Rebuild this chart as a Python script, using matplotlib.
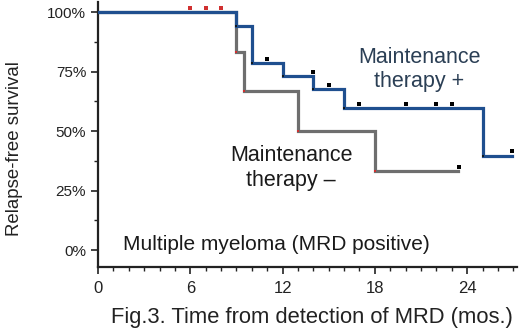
import matplotlib
matplotlib.use("Agg")
import matplotlib.pyplot as plt
from matplotlib.ticker import MultipleLocator, FuncFormatter

plt.rcParams['font.family'] = ['Liberation Sans', 'DejaVu Sans']

# Maintenance therapy + (blue)
pos_times = [0, 9.0, 10.0, 12.0, 14.0, 16.0, 25.0]
pos_surv = [100, 94.4, 78.7, 73.0, 67.5, 59.6, 39.7]
pos_end = 26.9
pos_cens_t = [11.0, 14.0, 15.0, 17.0, 20.0, 22.0, 23.0, 26.9]
pos_cens_s = [78.7, 73.0, 67.5, 59.6, 59.6, 59.6, 59.6, 39.7]

# Maintenance therapy - (gray)
neg_times = [0, 9.0, 9.5, 13.0, 18.0]
neg_surv = [100, 83.3, 66.7, 50.0, 33.3]
neg_end = 23.4
neg_cens_t = [6.0, 7.0, 8.0, 23.5]
neg_cens_s = [100, 100, 100, 33.3]

xticks = [0, 6, 12, 18, 24]
yticks = [0, 25, 50, 75, 100]

blue = '#1f4f8f'
gray = '#6e6e6e'

fig = plt.figure(figsize=(5.2, 3.31), dpi=100)
ax = fig.add_axes([0.1885, 0.1934, 0.806, 0.8])

def steps(t, s, end):
    xs, ys = [], []
    for i in range(len(t)):
        xs.append(t[i]); ys.append(s[i])
        nxt = t[i + 1] if i + 1 < len(t) else end
        xs.append(nxt); ys.append(s[i])
    return xs, ys

gx, gy = steps(neg_times, neg_surv, neg_end)
ax.plot(gx, gy, color=gray, lw=2.3, solid_joinstyle='miter', zorder=2)
bx, by = steps(pos_times, pos_surv, pos_end)
ax.plot(bx, by, color=blue, lw=2.3, solid_joinstyle='miter', zorder=3)

# corner markers
ax.plot(neg_times[1:], neg_surv[1:], 's', color='#d03030', ms=1.8, mew=0, zorder=4)
ax.plot(pos_times[1:], pos_surv[1:], 's', color='#101820', ms=1.8, mew=0, zorder=4)

# censor marks
off = 1.8
ax.plot(pos_cens_t, [v + off for v in pos_cens_s], 's', color='black', ms=2.2, mew=0, zorder=5)
cens_cols = ['#d03030', '#d03030', '#d03030', 'black']
for t, s, c in zip(neg_cens_t, neg_cens_s, cens_cols):
    ax.plot([t], [s + off], 's', color=c, ms=2.2, mew=0, zorder=5)

ax.set_xlim(0, 27.25)
ax.set_ylim(-7.1, 104.2)
ax.set_xticks(xticks)
ax.set_yticks(yticks)
ax.xaxis.set_minor_locator(MultipleLocator(1))
ax.yaxis.set_minor_locator(MultipleLocator(12.5))
ax.yaxis.set_major_formatter(FuncFormatter(lambda v, p: f"{int(v)}%"))

for sp in ['top', 'right']:
    ax.spines[sp].set_visible(False)
for sp in ['left', 'bottom']:
    ax.spines[sp].set_linewidth(1.6)
    ax.spines[sp].set_color('#222222')

ax.tick_params(axis='both', which='major', length=5, width=1.2, colors='#222222')
ax.tick_params(axis='y', labelsize=11)
ax.tick_params(axis='x', labelsize=12, pad=5)
ax.tick_params(axis='both', which='minor', length=3, width=1.0, colors='#222222')

fig.text(312 / 520, 1 - 317 / 331, "Fig.3. Time from detection of MRD (mos.)",
         ha='center', va='center', fontsize=15.8, color='#222222')
fig.text(15 / 520, 1 - 149 / 331, "Relapse-free survival", rotation=90,
         ha='center', va='center', fontsize=13.4, color='#222222')

ax.text(20.9, 76.0, "Maintenance\ntherapy +", ha='center', va='center', fontsize=15.5,
        color='#2b3f55', linespacing=1.22)
ax.text(12.55, 34.5, "Maintenance\ntherapy \u2013", ha='center', va='center', fontsize=15.5,
        color='#1a1a1a', linespacing=1.22)
ax.text(1.6, 2.5, "Multiple myeloma (MRD positive)", ha='left', va='center', fontsize=15,
        color='#1a1a1a')

fig.savefig("out.png", dpi=100)
